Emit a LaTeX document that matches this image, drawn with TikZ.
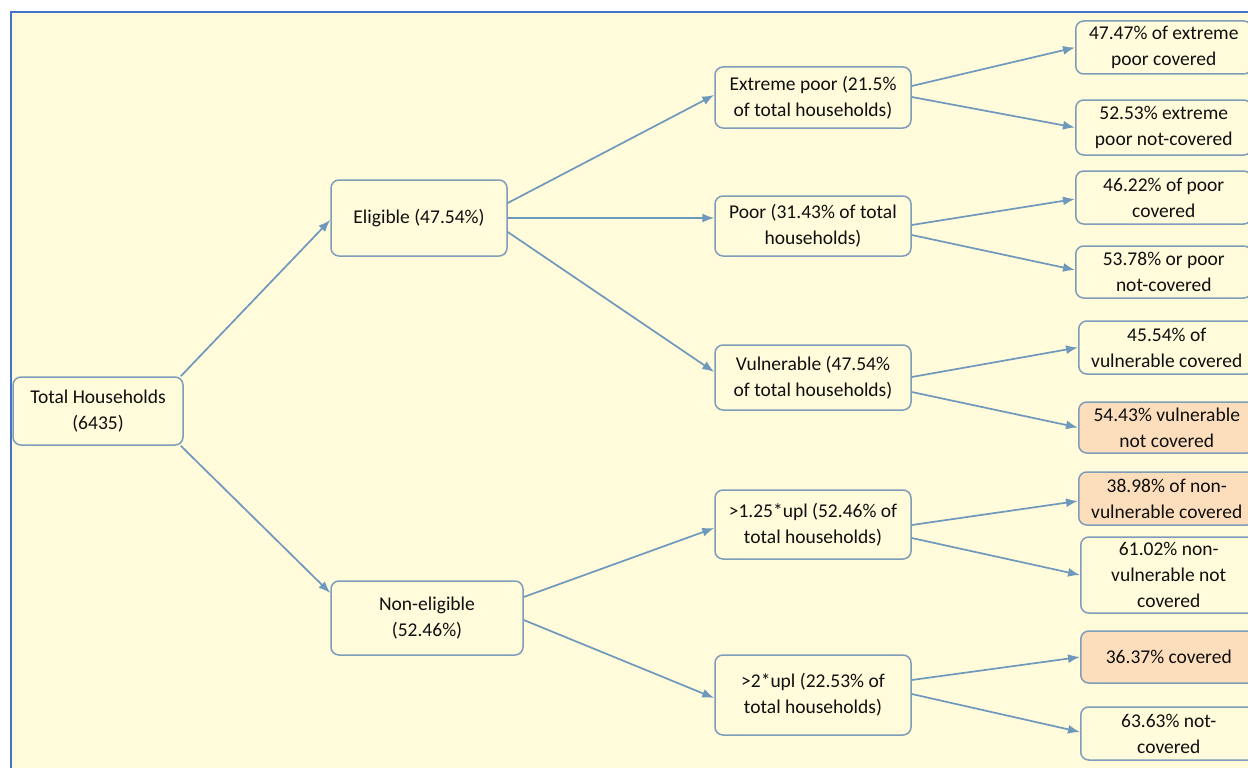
\documentclass[tikz,border=0pt]{standalone}
\usepackage{fontspec}
\setmainfont{Carlito}
\usetikzlibrary{calc,arrows.meta}
\definecolor{bgy}{RGB}{255,251,219}
\definecolor{frameb}{RGB}{68,114,196}
\definecolor{boxb}{RGB}{127,157,185}
\definecolor{arr}{RGB}{110,152,188}
\definecolor{peach}{RGB}{252,222,188}
\definecolor{txt}{RGB}{15,15,15}
\begin{document}
\begin{tikzpicture}[x=1pt,y=-1pt,
  box/.style={draw=boxb, line width=1.5pt, rounded corners=8pt, fill=bgy, align=center, inner sep=0pt, font=\fontsize{19.5}{26}\selectfont, text=txt},
  hl/.style={fill=peach},
  rbox/.style={box, anchor=west, minimum width=176pt},
  arrow/.style={draw=arr, line width=1.7pt, -{Latex[length=12pt,width=9pt]}}]
\useasboundingbox (0,0) rectangle (1248,768);
\clip (0,0) rectangle (1248,768);
\fill[white] (0,0) rectangle (1248,768);
\fill[bgy] (11,12) rectangle (1260,780);
\draw[frameb, line width=2.6pt] (11,780) -- (11,12) -- (1260,12);

% level 0
\node[box, minimum width=170pt, minimum height=68pt] (total) at (98,411) {Total Households\\(6435)};
% level 1
\node[box, minimum width=176pt, minimum height=76pt] (elig) at (419,218) {Eligible (47.54\%)};
\node[box, minimum width=192pt, minimum height=74pt] (nonel) at (427,618) {Non-eligible\\(52.46\%)};
% level 2
\node[box, minimum width=196pt, minimum height=61pt] (ext) at (813,97.5) {Extreme poor (21.5\%\\of total households)};
\node[box, minimum width=196pt, minimum height=60pt] (poor) at (813,226) {Poor (31.43\% of total\\households)};
\node[box, minimum width=196pt, minimum height=65pt] (vuln) at (813,377.5) {Vulnerable (47.54\%\\of total households)};
\node[box, minimum width=196pt, minimum height=69pt] (u125) at (813,524.5) {>1.25*upl (52.46\% of\\total households)};
\node[box, minimum width=196pt, minimum height=80pt] (u2) at (813,695) {>2*upl (22.53\% of\\total households)};
% level 3
\node[rbox, minimum height=53pt] (r1) at (1075,47.5) {47.47\% of extreme\\poor covered};
\node[rbox, minimum height=55pt] (r2) at (1075,127.5) {52.53\% extreme\\poor not-covered};
\node[rbox, minimum height=53pt] (r3) at (1075,197.5) {46.22\% of poor\\covered};
\node[rbox, minimum height=52pt] (r4) at (1075,272) {53.78\% or poor\\not-covered};
\node[rbox, minimum height=53pt] (r5) at (1078,347.5) {45.54\% of\\vulnerable covered};
\node[rbox, hl, minimum height=51pt] (r6) at (1078,427.5) {54.43\% vulnerable\\not covered};
\node[rbox, hl, minimum height=53pt] (r7) at (1078,498.5) {38.98\% of non-\\vulnerable covered};
\node[rbox, minimum height=76pt] (r8) at (1080,575) {61.02\% non-\\vulnerable not\\covered};
\node[rbox, hl, minimum height=52pt] (r9) at (1080,657) {36.37\% covered};
\node[rbox, minimum height=53pt] (r10) at (1080,733.5) {63.63\% not-\\covered};

% connectors
\draw[arrow] ([xshift=-3pt]total.north east) -- ($(elig.west)+(0,2)$);
\draw[arrow] ([xshift=-3pt]total.south east) -- ($(nonel.west)+(0,-25)$);
\draw[arrow] ($(elig.east)+(0,-15)$) -- ($(ext.west)+(0,-2.5)$);
\draw[arrow] (elig.east) -- ($(poor.west)+(0,-8)$);
\draw[arrow] ($(elig.east)+(0,14)$) -- ($(vuln.west)+(0,-5.5)$);
\draw[arrow] ($(nonel.east)+(0,-21)$) -- ($(u125.west)+(0,3.5)$);
\draw[arrow] ($(nonel.east)+(0,2)$) -- ($(u2.west)+(0,3)$);
\draw[arrow] ($(ext.east)+(0,-11.5)$) -- (r1.west);
\draw[arrow] ($(ext.east)+(0,-0.5)$) -- (r2.west);
\draw[arrow] ($(poor.east)+(0,-1)$) -- ($(r3.west)+(0,1.5)$);
\draw[arrow] ($(poor.east)+(0,9)$) -- ($(r4.west)+(0,-2)$);
\draw[arrow] ($(vuln.east)+(0,-0.5)$) -- (r5.west);
\draw[arrow] ($(vuln.east)+(0,14.5)$) -- (r6.west);
\draw[arrow] ($(u125.east)+(0,0.5)$) -- ($(r7.west)+(0,2.5)$);
\draw[arrow] ($(u125.east)+(0,13.5)$) -- (r8.west);
\draw[arrow] ($(u2.east)+(0,-15)$) -- (r9.west);
\draw[arrow] ($(u2.east)+(0,-1)$) -- ($(r10.west)+(0,-1.5)$);
\end{tikzpicture}
\end{document}
